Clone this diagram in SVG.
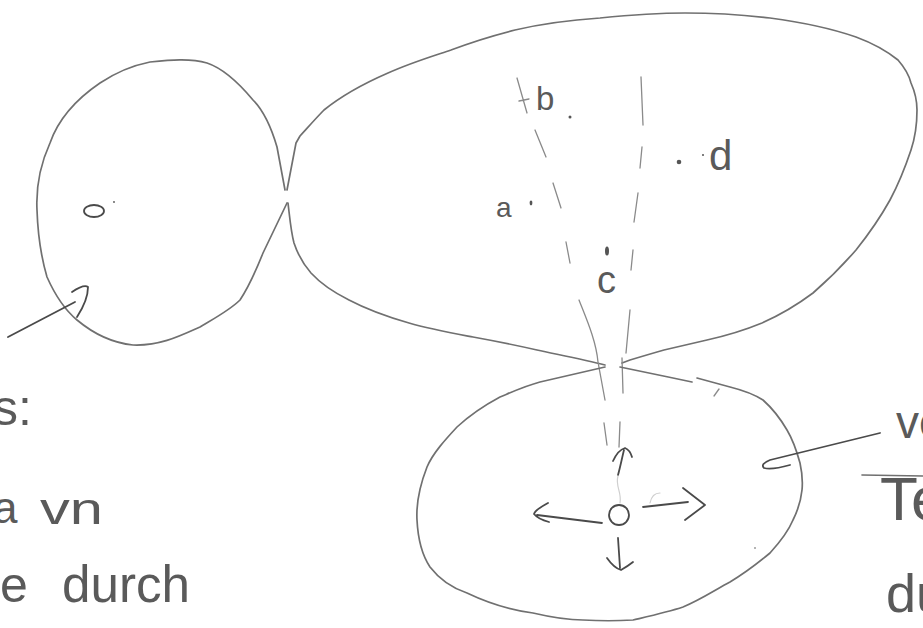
<svg xmlns="http://www.w3.org/2000/svg" width="923" height="628" viewBox="0 0 923 628">
<style>
.sk{fill:none;stroke:#707070;stroke-width:1.7;stroke-linecap:round;stroke-linejoin:round}
.dk{fill:none;stroke:#4a4a4a;stroke-width:1.8;stroke-linecap:round;stroke-linejoin:round}
.lt{fill:none;stroke:#8a8a8a;stroke-width:1.3;stroke-linecap:round}
.fa{fill:none;stroke:#cfcfcf;stroke-width:1.2;stroke-linecap:round}
.tx{font-family:"Liberation Sans",Arial,sans-serif;fill:#5a5a5a}
.dot{fill:#555}
</style>
<rect width="923" height="628" fill="#ffffff"/>

<g id="node-left-circle">
<path class="sk" d="M285,190 L277,147 C272,130 265,112 253,100 C238,82 222,68 207,63 C190,58 170,60 150,62 C130,66 115,73 100,83 C75,100 58,120 50,143 C40,165 36,190 37,210 C38,240 42,260 47,277 C55,295 65,310 77,320 C95,335 113,343 133,345 C160,346 180,336 200,327 C215,318 230,310 240,300 C250,285 257,268 263,253 L287,203"/>
<ellipse class="dk" cx="94" cy="211" rx="10" ry="6"/>
<circle class="dot" cx="114" cy="202" r="0.9"/>
</g>

<g id="node-big-blob">
<path class="sk" d="M287,190 L296,143 L300,136 C310,125 318,116 324,110 C345,93 365,83 388,73 C410,63 430,57 451,50 C472,42 495,35 515,30 C545,23 570,20 600,18 C630,15 660,13 685,13 C715,13 745,15 770,18 C800,22 830,28 856,37 C875,44 888,52 898,60 C905,68 909,75 911,83 C915,92 917,100 917,110 C917,125 915,138 911,150 C905,168 898,185 890,200 C880,218 868,235 856,250 C843,265 828,280 813,293 C797,305 780,315 762,323 C745,330 725,336 707,340 C690,344 677,347 664,350 C650,354 640,357 630,360 L622,363"/>
<path class="sk" d="M288,203 C290,220 291,232 294,243 C298,255 304,265 311,273 C322,285 335,293 349,300 C368,310 388,317 409,323 C430,329 452,333 473,337 C495,341 515,345 537,350 C560,355 585,360 605,365"/>
<g id="funnel">
<path class="lt" d="M517,78 L527,113 M519,101 L529,99 M535,130 L546,157 M553,183 L561,208 M566,242 L570,263 M579,300 C586,318 596,340 598,362 L605,400"/>
<path class="lt" d="M641,77 L643,125 M642,147 L640,168 M638,193 L634,222 M633,250 L631,270 M630,310 L626,353 M622,358 L623,393"/>
<path class="lt" d="M604,423 L607,445 M620,422 L619,447"/>
</g>
<text class="tx" x="536" y="110" font-size="33">b</text>
<circle class="dot" cx="570" cy="117" r="1.5"/>
<text class="tx" x="496" y="217" font-size="28">a</text>
<ellipse class="dot" cx="531" cy="203" rx="1.4" ry="2.4"/>
<text class="tx" x="709" y="170" font-size="42">d</text>
<circle class="dot" cx="679" cy="162" r="2.3"/>
<circle class="dot" cx="703" cy="155" r="1"/>
<ellipse class="dot" cx="607" cy="251" rx="2" ry="4.5"/>
<text class="tx" x="597" y="293" font-size="38">c</text>
</g>

<g id="node-bottom-ellipse">
<path class="sk" d="M605,367 L540,382 C525,386 512,392 500,397 C485,405 470,415 457,427 C445,440 433,453 427,467 C420,485 416,502 417,520 C418,540 422,555 430,567 C440,580 452,588 467,593 C488,603 510,610 533,613 C550,617 565,620 583,620 C600,621 617,621 633,620 C650,616 668,612 683,607 C700,600 715,590 730,582 C745,573 758,563 770,553 C780,542 788,532 793,520 C798,510 801,500 802,490 C803,480 802,472 800,463 C797,452 793,440 787,430 C780,418 772,408 763,400 C752,393 742,390 730,387 L697,378"/>
<path class="sk" d="M620,367 C645,372 668,377 692,382"/>
<path class="lt" d="M714,396 L719,389"/>
<ellipse class="dk" cx="619" cy="515" rx="10" ry="10"/>
<path class="dk" d="M618,475 C620,468 622,458 624,450 M613,461 Q618,450 625,448 Q630,450 632,457"/>
<path class="fa" d="M618,476 C615,486 622,492 620,503"/>
<path class="dk" d="M602,523 L537,515 M548,503 Q535,510 534,514 Q538,519 549,522"/>
<path class="dk" d="M643,507 L688,502 M683,488 L705,505 L685,520"/>
<path class="dk" d="M618,538 L620,568 M607,558 Q614,568 621,570 Q628,566 633,562"/>
<path class="fa" d="M650,503 Q652,493 660,493"/>
<circle class="dot" cx="755" cy="548" r="0.8"/>
</g>

<g id="connectors">
<path class="dk" d="M8,337 L75,302 M72,292 Q84,284 88,287 Q88,300 77,317"/>
<path class="dk" d="M880,433 L770,460 Q760,464 764,468 Q772,470 790,465"/>
</g>

<g id="labels">
<text class="tx" x="-7" y="425" font-size="50">s:</text>
<text class="tx" x="-7" y="523" font-size="44">a</text>
<text class="tx" x="40" y="524" font-size="44" textLength="63" lengthAdjust="spacingAndGlyphs">vn</text>
<text class="tx" x="0" y="602" font-size="50">e</text>
<text class="tx" x="62" y="602" font-size="52" textLength="128" lengthAdjust="spacingAndGlyphs">durch</text>
<text class="tx" x="896" y="438" font-size="46">vo</text>
<path class="sk" d="M862,475 L923,476"/>
<text class="tx" x="880" y="520" font-size="62">Te</text>
<text class="tx" x="886" y="612" font-size="54">du</text>
</g>
</svg>
